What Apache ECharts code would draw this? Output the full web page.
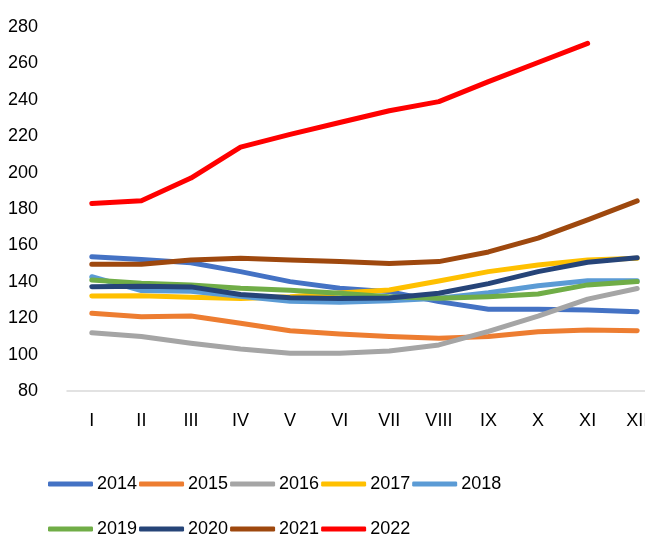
<!DOCTYPE html>
<html>
<head>
<meta charset="utf-8">
<script src="https://cdn.jsdelivr.net/npm/echarts@6/dist/echarts.min.js"></script>
<style>html,body{margin:0;padding:0;background:#fff;}#c{width:645px;height:536px;}</style>
</head>
<body>
<div id="c"></div>
<script>
const categories = ['I','II','III','IV','V','VI','VII','VIII','IX','X','XI','XII'];
const yTicks = [80,100,120,140,160,180,200,220,240,260,280];

const s2014 = [153.8,152.3,150.5,145.6,140.1,136.4,134.6,129.1,124.9,124.9,124.5,123.6];
const s2015 = [122.7,120.8,121.2,117.2,113.1,111.3,109.9,109.0,110.0,112.6,113.5,113.1];
const s2016 = [112.0,109.9,106.2,103.1,100.7,100.7,102.0,105.3,112.8,121.2,130.5,136.3];
const s2017 = [132.2,132.4,131.5,130.8,131.8,133.8,135.5,140.4,145.6,149.2,152.0,153.0];
const s2018 = [142.8,135.2,134.8,132.0,129.3,128.8,129.6,131.0,134.0,137.8,140.6,140.6];
const s2019 = [141.0,139.2,138.3,136.4,135.3,133.7,131.8,130.9,131.8,133.3,138.3,140.1];
const s2020 = [137.3,137.6,137.2,133.0,131.2,130.8,131.1,133.7,139.0,145.6,150.7,153.2];
const s2021 = [149.6,149.6,152.0,152.9,152.0,151.1,150.1,151.1,156.4,164.0,174.0,184.5];
const s2022 = [183.0,184.5,197.0,214.0,221.0,227.5,234.0,239.0,250.0,260.5,271.0,null];

const seriesNames = ['2014','2015','2016','2017','2018','2019','2020','2021','2022'];
const seriesData = [s2014,s2015,s2016,s2017,s2018,s2019,s2020,s2021,s2022];
const colors = ['#4472C4','#ED7D31','#A5A5A5','#FFC000','#5B9BD5','#70AD47','#264478','#9E480E','#FF0000'];

const font = 'Liberation Sans, Arial, sans-serif';
const chart = echarts.init(document.getElementById('c'), null, {renderer:'canvas'});
const legendCommon = {
  left: 48, padding: 0, icon: 'roundRect', itemWidth: 45, itemHeight: 5, itemGap: 2,
  textStyle: {fontFamily: font, fontSize: 18, color: '#000', padding: [0,0,0,-1]}
};
chart.setOption({
  animation: false,
  color: colors,
  textStyle: {fontFamily: font},
  grid: {left: 67, top: 27, width: 595, height: 364, containLabel: false, outerBoundsMode: 'none'},
  legend: [
    Object.assign({top: 475, data: seriesNames.slice(0,5)}, legendCommon),
    Object.assign({top: 520, data: seriesNames.slice(5)}, legendCommon)
  ],
  xAxis: {
    type: 'category', data: categories, boundaryGap: true,
    axisLine: {lineStyle: {color: '#D9D9D9', width: 1.5}},
    axisTick: {show: false},
    axisLabel: {fontFamily: font, fontSize: 18, color: '#000', margin: 21, interval: 0}
  },
  yAxis: {
    type: 'value', min: yTicks[0], max: yTicks[yTicks.length-1], interval: 20,
    axisLine: {show: false}, axisTick: {show: false}, splitLine: {show: false},
    axisLabel: {fontFamily: font, fontSize: 18, color: '#000', margin: 29}
  },
  series: seriesData.map((d, i) => ({
    name: seriesNames[i], type: 'line', data: d, symbol: 'none',
    lineStyle: {width: 5, cap: 'round', join: 'round', color: colors[i]},
    itemStyle: {color: colors[i]}
  }))
});
</script>
</body>
</html>
